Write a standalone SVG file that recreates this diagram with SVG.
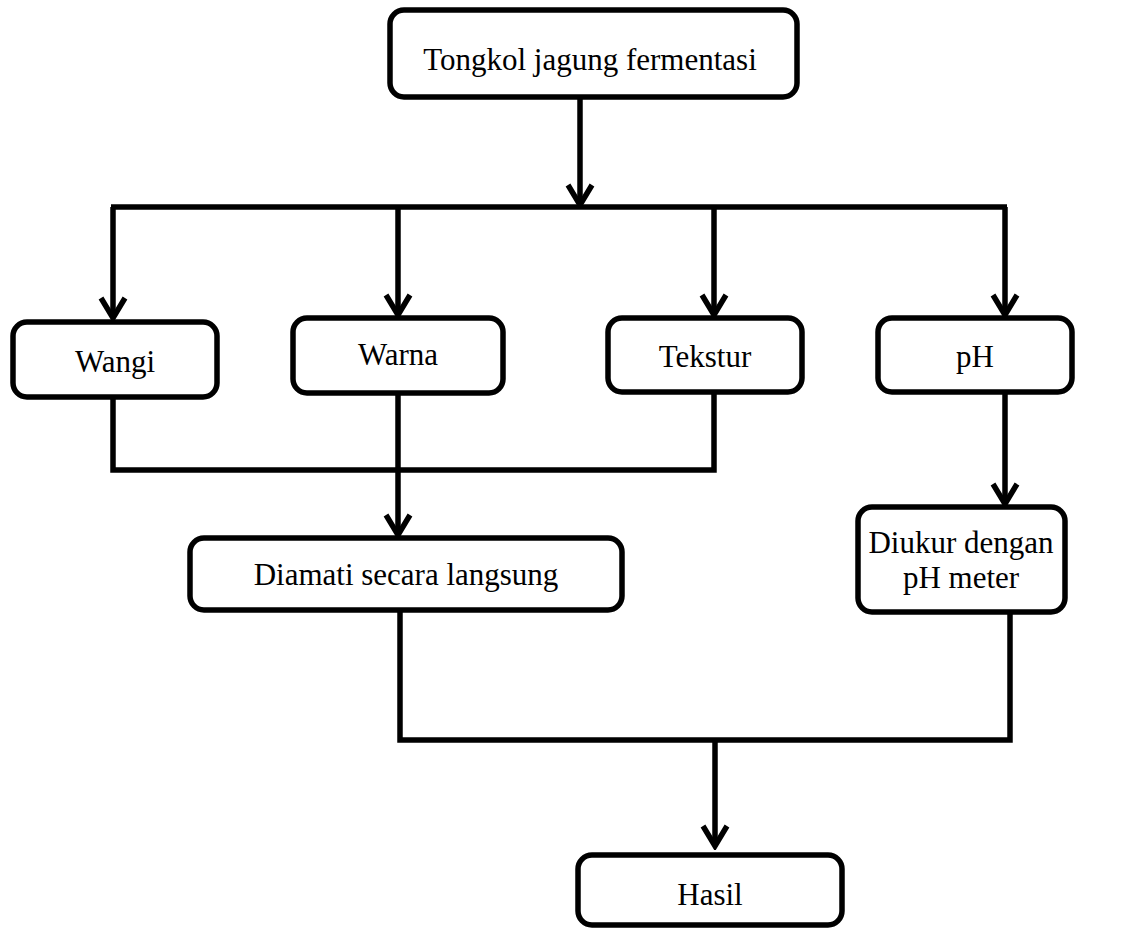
<svg xmlns="http://www.w3.org/2000/svg" width="1130" height="932" viewBox="0 0 1130 932">
<defs>
<style>
.box{fill:#fff;stroke:#000;stroke-width:5.5}
.t{font-family:"Liberation Serif","Times New Roman",serif;font-size:31px;fill:#000;text-anchor:middle}
.c{fill:none;stroke:#000;stroke-width:5.5}
</style>
<marker id="ah" viewBox="-24 -15 28 30" refX="0" refY="0" markerWidth="28" markerHeight="30" markerUnits="userSpaceOnUse" orient="auto">
<path d="M-20,-12 L0,0 L-20,12" fill="none" stroke="#000" stroke-width="5.5" stroke-linejoin="miter"/>
</marker>
</defs>
<rect width="1130" height="932" fill="#fff"/>
<g id="connectors">
<path class="c" d="M580,97 V205" marker-end="url(#ah)"/>
<path class="c" d="M111,207 H1007"/>
<path class="c" d="M113,207 V318" marker-end="url(#ah)"/>
<path class="c" d="M398,207 V315" marker-end="url(#ah)"/>
<path class="c" d="M714,207 V315" marker-end="url(#ah)"/>
<path class="c" d="M1005,207 V315" marker-end="url(#ah)"/>
<path class="c" d="M113,397 V470 H714 V392"/>
<path class="c" d="M398,393 V535" marker-end="url(#ah)"/>
<path class="c" d="M1005,392 V504" marker-end="url(#ah)"/>
<path class="c" d="M400,610 V740 H1010 V612"/>
<path class="c" d="M715,740 V846" marker-end="url(#ah)"/>
</g>
<g id="n_top"><rect class="box" x="390" y="10" width="407" height="87" rx="14"/><text class="t" x="590" y="70">Tongkol jagung fermentasi</text></g>
<g id="n_wangi"><rect class="box" x="13" y="322" width="204" height="75" rx="14"/><text class="t" x="115" y="372">Wangi</text></g>
<g id="n_warna"><rect class="box" x="293" y="318" width="210" height="75" rx="14"/><text class="t" x="398" y="365">Warna</text></g>
<g id="n_tekstur"><rect class="box" x="608" y="318" width="194" height="74" rx="14"/><text class="t" x="705" y="367">Tekstur</text></g>
<g id="n_ph"><rect class="box" x="878" y="318" width="194" height="74" rx="14"/><text class="t" x="975" y="367">pH</text></g>
<g id="n_diamati"><rect class="box" x="190" y="538" width="432" height="72" rx="14"/><text class="t" x="406" y="585">Diamati secara langsung</text></g>
<g id="n_diukur"><rect class="box" x="858" y="507" width="207" height="105" rx="14"/><text class="t" x="961" y="553">Diukur dengan</text><text class="t" x="961" y="588">pH meter</text></g>
<g id="n_hasil"><rect class="box" x="578" y="855" width="264" height="70" rx="14"/><text class="t" x="710" y="905">Hasil</text></g>
</svg>
